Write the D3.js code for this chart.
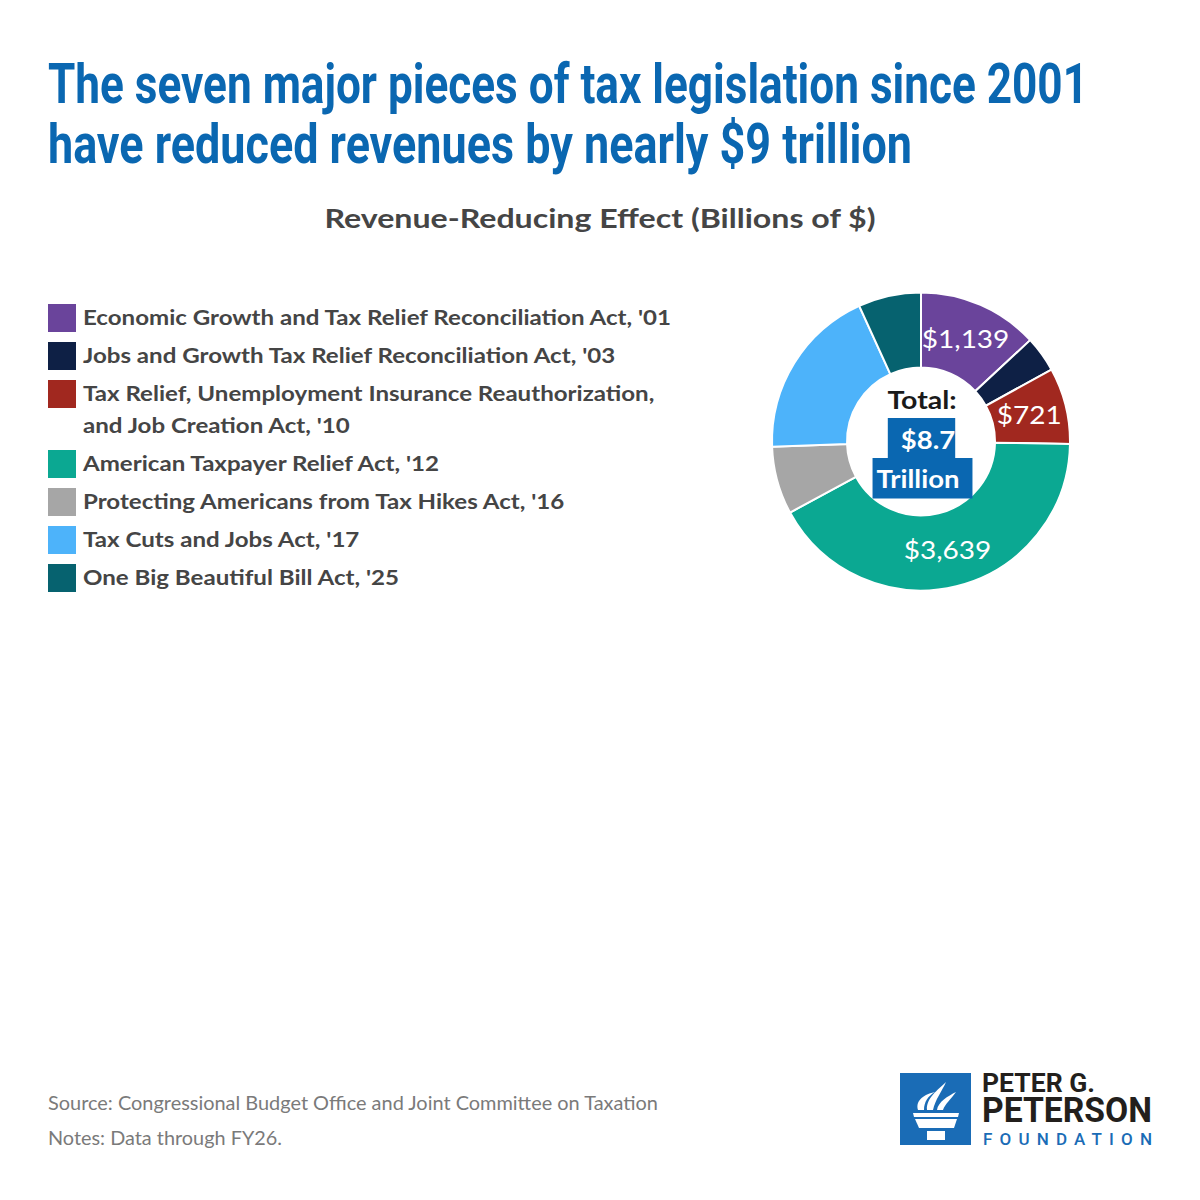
<!DOCTYPE html>
<html>
<head>
<meta charset="utf-8">
<script src="https://cdn.jsdelivr.net/npm/d3@7"></script>
<style>
  body { margin: 0; background: #fff; }
  svg { display: block; }
</style>
</head>
<body>
<svg id="chart" width="1200" height="1200"></svg>
<script>
// values (billions of $)
const acts = [
  "Economic Growth and Tax Relief Reconciliation Act, '01",
  "Jobs and Growth Tax Relief Reconciliation Act, '03",
  "Tax Relief, Unemployment Insurance Reauthorization,|and Job Creation Act, '10",
  "American Taxpayer Relief Act, '12",
  "Protecting Americans from Tax Hikes Act, '16",
  "Tax Cuts and Jobs Act, '17",
  "One Big Beautiful Bill Act, '25"
];
const amounts = [1139, 338, 721, 3639, 640, 1631, 592];
const shownLabels = ["$1,139", null, "$721", "$3,639", null, null, null];
const colors = ["#6a449b", "#0e2045", "#a1281f", "#0ba892", "#a6a6a6", "#4db3fa", "#06626f"];
const titleLines = ["The seven major pieces of tax legislation since 2001",
                    "have reduced revenues by nearly $9 trillion"];
const totalLines = ["$8.7", "Trillion"];

const svg = d3.select("#chart");
const blue = "#0a67b1";

// the original text is drawn wider than the font's natural width,
// so widen it around its anchor x
function stretch(sel, k) {
  sel.each(function() {
    const x = +this.getAttribute("x") || 0;
    d3.select(this).attr("transform", `translate(${x},0) scale(${k},1) translate(${-x},0)`);
  });
  return sel;
}

// title, condensed look made with textLength
const titleWidths = [1040, 864];
svg.selectAll("text.title").data(titleLines).join("text")
  .attr("class", "title")
  .attr("x", 48)
  .attr("y", (d, i) => 103 + i * 60)
  .attr("textLength", (d, i) => titleWidths[i])
  .attr("lengthAdjust", "spacingAndGlyphs")
  .style("font-family", "Roboto")
  .style("font-weight", 700)
  .style("font-size", "56px")
  .style("fill", blue)
  .text(d => d);

const sub = svg.append("text")
  .attr("x", 600).attr("y", 228)
  .attr("text-anchor", "middle")
  .style("font-family", "Lato").style("font-weight", 700)
  .style("font-size", "27px").style("fill", "#454545")
  .text("Revenue-Reducing Effect (Billions of $)");
stretch(sub, 1.19);

// legend
let ly = 318;
const legend = svg.append("g");
acts.forEach((name, i) => {
  const lines = name.split("|");
  const g = legend.append("g").attr("transform", `translate(0,${ly})`);
  g.append("rect").attr("x", 48).attr("y", -14).attr("width", 28).attr("height", 28)
    .attr("fill", colors[i]);
  lines.forEach((t, j) => {
    const tx = g.append("text").attr("x", 83).attr("y", 7 + j * 32)
      .style("font-family", "Lato").style("font-weight", 700)
      .style("font-size", "20.5px").style("fill", "#454545")
      .text(t);
    stretch(tx, 1.175);
  });
  ly += 38 + (lines.length - 1) * 32;
});

// donut
const cx = 921, cy = 441.5, rOut = 149, rIn = 74;
const pie = d3.pie().sort(null).value(d => d)(amounts);
const arc = d3.arc().innerRadius(rIn).outerRadius(rOut);
const donut = svg.append("g").attr("transform", `translate(${cx},${cy})`);
donut.selectAll("path").data(pie).join("path")
  .attr("d", arc)
  .attr("fill", (d, i) => colors[i])
  .attr("stroke", "#fff").attr("stroke-width", 2);

donut.selectAll("text.val").data(pie.filter((d, i) => shownLabels[i])).join("text")
  .attr("class", "val")
  .attr("transform", d => `translate(${arc.centroid(d)}) scale(1.12,1)`)
  .attr("text-anchor", "middle").attr("dy", "0.36em")
  .style("font-family", "Lato").style("font-size", "25px").style("fill", "#fff")
  .text(d => shownLabels[d.index]);

// total in the hole
const tot = donut.append("text").attr("x", 1).attr("y", -33)
  .attr("text-anchor", "middle")
  .style("font-family", "Lato").style("font-weight", 700)
  .style("font-size", "25px").style("fill", "#1a1a1a")
  .text("Total:");
stretch(tot, 1.14);

const boxPads = [[13, 0], [4, 13]];
const boxX = [7, -3];
const boxK = 1.1;
totalLines.forEach((t, i) => {
  const bg = donut.append("rect").attr("fill", blue);
  const tx = donut.append("text").attr("x", boxX[i]).attr("y", 7 + i * 40)
    .attr("text-anchor", "middle")
    .style("font-family", "Lato").style("font-weight", 700)
    .style("font-size", "25px").style("fill", "#fff")
    .text(t);
  const wd = tx.node().getComputedTextLength() * boxK;
  stretch(tx, boxK);
  const left = boxX[i] - wd / 2;
  bg.attr("x", left - boxPads[i][0]).attr("y", -23.5 + i * 40)
    .attr("width", wd + boxPads[i][0] + boxPads[i][1]).attr("height", 40.5);
});

// footer
svg.append("text").attr("x", 48).attr("y", 1110)
  .attr("textLength", 610).attr("lengthAdjust", "spacingAndGlyphs")
  .style("font-family", "Lato").style("font-size", "19px").style("fill", "#7a7a7a")
  .text("Source: Congressional Budget Office and Joint Committee on Taxation");
svg.append("text").attr("x", 48).attr("y", 1145)
  .attr("textLength", 234).attr("lengthAdjust", "spacingAndGlyphs")
  .style("font-family", "Lato").style("font-size", "19px").style("fill", "#7a7a7a")
  .text("Notes: Data through FY26.");

// logo
const logo = svg.append("g").attr("transform", "translate(900,1073)");
logo.append("rect").attr("width", 71).attr("height", 72).attr("fill", "#1a6cb6");
const w = "#fff";
// torch bowl
logo.append("path").attr("fill", w)
  .attr("d", "M13,40 L59,40 L58,44 L14,44 Z");
logo.append("path").attr("fill", w)
  .attr("d", "M15,46 L57,46 L54,55 L19,55 Z");
logo.append("path").attr("fill", w)
  .attr("d", "M27,58 L45,58 L45,67 L27,67 Z");
// flames
logo.append("path").attr("fill", w)
  .attr("d", "M18,37 C15,27 25,21 35,19 C28,23 24,29 24,37 Z");
logo.append("path").attr("fill", w)
  .attr("d", "M27,37 C26,25 38,17 46,9 C42,18 35,27 33,37 Z");
logo.append("path").attr("fill", w)
  .attr("d", "M37,37 C38,29 48,23 56,19 C51,26 45,31 43,37 Z");

const logoText = svg.append("g").style("font-family", "Roboto").style("font-weight", 700);
logoText.append("text").attr("x", 982).attr("y", 1092)
  .attr("textLength", 113).attr("lengthAdjust", "spacingAndGlyphs")
  .style("font-size", "25px").style("fill", "#231f1c").text("PETER G.");
logoText.append("text").attr("x", 982).attr("y", 1122)
  .attr("textLength", 170).attr("lengthAdjust", "spacingAndGlyphs")
  .style("font-size", "34.5px").style("fill", "#231f1c").text("PETERSON");
logoText.append("text").attr("x", 983).attr("y", 1145)
  .attr("textLength", 169).attr("lengthAdjust", "spacing")
  .style("font-size", "17px").style("font-weight", 500).style("fill", "#1a6cb6")
  .text("FOUNDATION");
</script>
</body>
</html>
